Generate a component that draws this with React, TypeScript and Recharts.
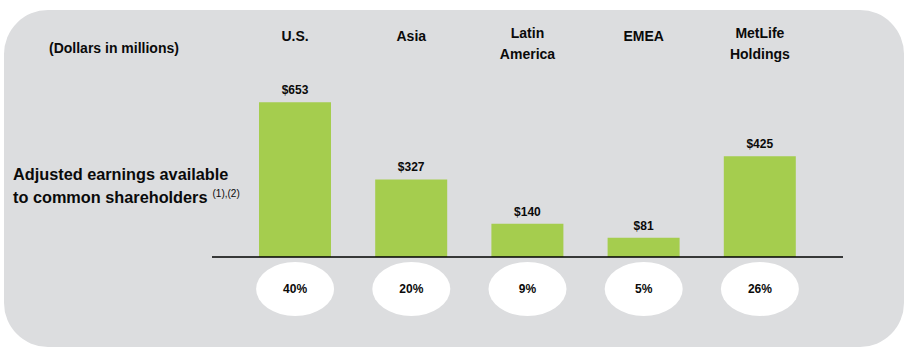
import React from "react";
import { BarChart, Bar, XAxis, YAxis, LabelList } from "recharts";

const categories = ["U.S.", "Asia", "Latin America", "EMEA", "MetLife Holdings"];
const earnings = [653, 327, 140, 81, 425];
const shares = [40, 20, 9, 5, 26];
const unitNote = "(Dollars in millions)";
const rowTitle = ["Adjusted earnings available", "to common shareholders"];
const rowNote = "(1),(2)";

const data = categories.map((c, i) => ({ region: c, value: earnings[i], share: shares[i] }));

const FONT = "'Liberation Sans', Arial, Helvetica, sans-serif";
const GREEN = "#A5CD4E";
const PANEL = "#DCDDDF";
const INK = "#0A0A0A";

const TopTick = (props: any) => {
  const { x, payload } = props;
  const lines = String(payload.value).split(" ");
  const baselines = lines.length > 1 ? [38, 59] : [41];
  return (
    <g>
      {lines.map((l, i) => (
        <text key={i} x={x} y={baselines[i]} textAnchor="middle" fontFamily={FONT} fontWeight="bold" fontSize={14} fill={INK}>
          {l}
        </text>
      ))}
    </g>
  );
};

const BottomTick = (props: any) => {
  const { x, payload } = props;
  const s = shares[payload.index];
  return (
    <g>
      <ellipse cx={x} cy={289} rx={39} ry={27} fill="#FFFFFF" />
      <text x={x} y={293} textAnchor="middle" fontFamily={FONT} fontWeight="bold" fontSize={12} fill={INK}>
        {`${s}%`}
      </text>
    </g>
  );
};

export default function App() {
  return (
    <div style={{ position: "absolute", left: 0, top: 0, width: 909, height: 351 }}>
      <svg width={909} height={351} style={{ position: "absolute", left: 0, top: 0 }}>
        <rect x={4} y={10} width={900} height={337} rx={44} ry={44} fill={PANEL} />
        <text x={49} y={53} fontFamily={FONT} fontWeight="bold" fontSize={14} fill={INK}>
          {unitNote}
        </text>
        <text x={13} y={180} fontFamily={FONT} fontWeight="bold" fontSize={16.3} fill={INK}>
          {rowTitle[0]}
        </text>
        <text x={13} y={203} fontFamily={FONT} fontWeight="bold" fontSize={16.3} fill={INK}>
          {rowTitle[1]}
          <tspan fontSize={10} fontWeight="normal" dx={5} dy={-6}>{rowNote}</tspan>
        </text>
      </svg>
      <div style={{ position: "absolute", left: 0, top: 0 }}>
        <BarChart
          width={909}
          height={351}
          data={data}
          margin={{ top: 0, right: 66, bottom: 0, left: 212 }}
        >
          <XAxis
            xAxisId="top"
            orientation="top"
            dataKey="region"
            height={91}
            axisLine={false}
            tickLine={false}
            interval={0}
            padding={{ left: 25, right: 25 }}
            tick={<TopTick />}
          />
          <XAxis
            dataKey="region"
            height={94}
            axisLine={{ stroke: "#000000", strokeWidth: 1.5 }}
            tickLine={false}
            interval={0}
            padding={{ left: 25, right: 25 }}
            tick={<BottomTick />}
          />
          <YAxis hide domain={[0, 700]} />
          <Bar dataKey="value" fill={GREEN} barSize={72} isAnimationActive={false}>
            <LabelList
              dataKey="value"
              position="top"
              offset={8}
              formatter={(v: any) => `$${v}`}
              style={{ fontFamily: FONT, fontWeight: "bold", fontSize: 12, fill: INK }}
            />
          </Bar>
        </BarChart>
      </div>
    </div>
  );
}
